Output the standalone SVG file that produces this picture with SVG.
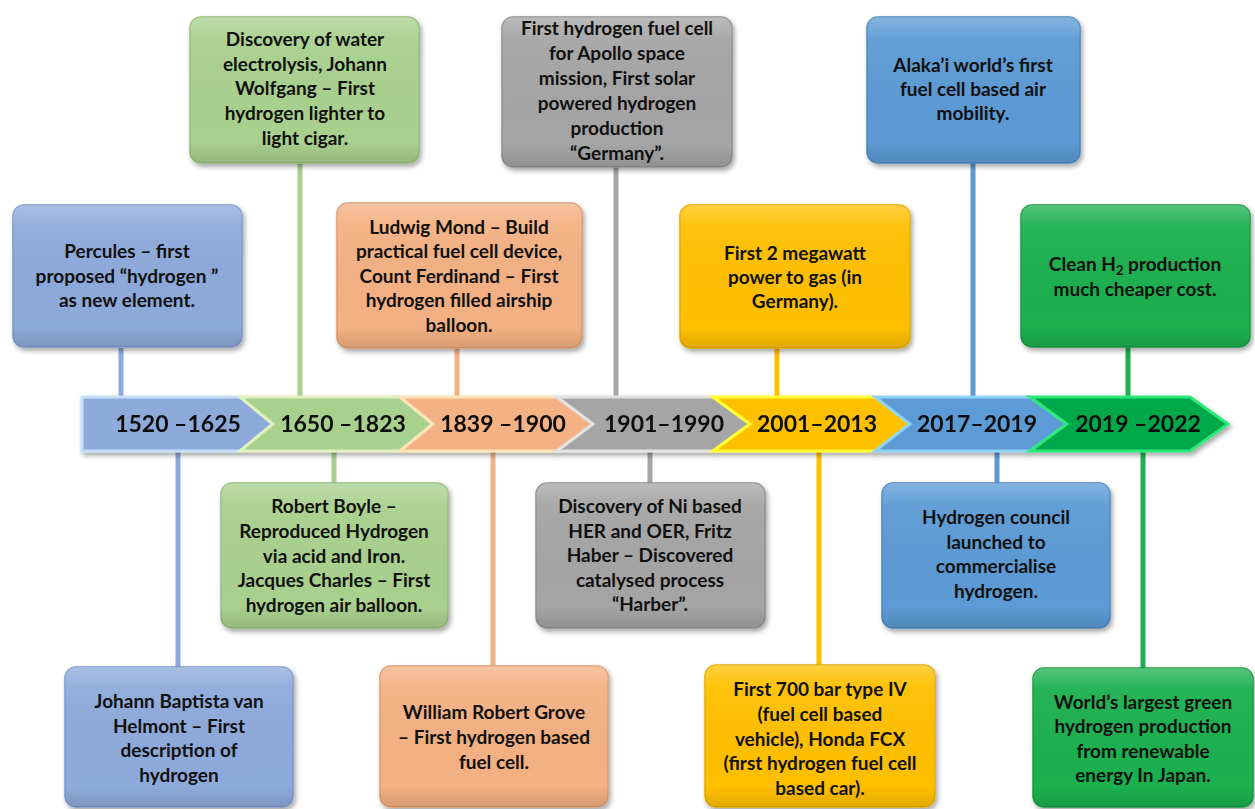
<svg xmlns="http://www.w3.org/2000/svg" width="1255" height="809" viewBox="0 0 1255 809">
<defs>
<filter id="sh" x="-10%" y="-10%" width="125%" height="130%">
<feDropShadow dx="2" dy="3" stdDeviation="2.5" flood-color="#000" flood-opacity="0.35"/>
</filter>
<linearGradient id="gl" x1="0" y1="0" x2="0" y2="1">
<stop offset="0" stop-color="#fff" stop-opacity="0.25"/>
<stop offset="0.15" stop-color="#fff" stop-opacity="0.05"/>
<stop offset="0.85" stop-color="#000" stop-opacity="0"/>
<stop offset="1" stop-color="#000" stop-opacity="0.12"/>
</linearGradient>
</defs>
<style>
.bx{filter:url(#sh);stroke-width:1.5}
.gl{fill:url(#gl);stroke:none}
.c1{fill:#8eaadb;stroke:#7d98cb}
.c2{fill:#a9d18e;stroke:#93bd77}
.c3{fill:#f4b183;stroke:#dd9a6c}
.c4{fill:#a5a5a5;stroke:#8f8f8f}
.c5{fill:#ffc000;stroke:#e5ac00}
.c6{fill:#5b9bd5;stroke:#4b88c0}
.c7{fill:#1fb04f;stroke:#189a43}
.t{font-family:Lato,"Liberation Sans",sans-serif;font-weight:bold;font-size:19px;fill:#111;text-anchor:middle}
.y{font-family:Lato,"Liberation Sans",sans-serif;font-weight:bold;font-size:23px;fill:#111;text-anchor:middle}
.ln{stroke-width:5;fill:none}
.ch{stroke-width:3;stroke-linejoin:miter}
</style>

<g id="connectors">
<line class="ln" x1="121" y1="348" x2="121" y2="396" stroke="#8eaadb"/>
<line class="ln" x1="300" y1="163" x2="300" y2="396" stroke="#a9d18e"/>
<line class="ln" x1="457" y1="348" x2="457" y2="396" stroke="#f4b183"/>
<line class="ln" x1="616" y1="167" x2="616" y2="396" stroke="#a5a5a5"/>
<line class="ln" x1="777" y1="348" x2="777" y2="396" stroke="#ffc000"/>
<line class="ln" x1="973" y1="163" x2="973" y2="396" stroke="#5b9bd5"/>
<line class="ln" x1="1128" y1="347" x2="1128" y2="396" stroke="#1fb04f"/>
<line class="ln" x1="178" y1="452" x2="178" y2="667" stroke="#8eaadb"/>
<line class="ln" x1="334" y1="452" x2="334" y2="483" stroke="#a9d18e"/>
<line class="ln" x1="493" y1="452" x2="493" y2="666" stroke="#f4b183"/>
<line class="ln" x1="650" y1="452" x2="650" y2="483" stroke="#a5a5a5"/>
<line class="ln" x1="819" y1="452" x2="819" y2="665" stroke="#ffc000"/>
<line class="ln" x1="997" y1="452" x2="997" y2="483" stroke="#5b9bd5"/>
<line class="ln" x1="1143" y1="452" x2="1143" y2="668" stroke="#1fb04f"/>
</g>

<g id="timeline" filter="url(#sh)">
<g id="p1"><polygon class="ch" points="82,397 240,397 273,424 240,451 82,451" fill="#8eaadb" stroke="#c5e0f5"/><text class="y" x="178" y="432">1520 –1625</text></g>
<g id="p2"><polygon class="ch" points="240,397 400,397 433,424 400,451 240,451 273,424" fill="#a9d18e" stroke="#e2f0c0"/><text class="y" x="343" y="432">1650 –1823</text></g>
<g id="p3"><polygon class="ch" points="400,397 557,397 593,424 557,451 400,451 433,424" fill="#f4b183" stroke="#fbe5b8"/><text class="y" x="503" y="432">1839 –1900</text></g>
<g id="p4"><polygon class="ch" points="557,397 713,397 750,424 713,451 557,451 593,424" fill="#a5a5a5" stroke="#e3e3e3"/><text class="y" x="664" y="432">1901–1990</text></g>
<g id="p5"><polygon class="ch" points="713,397 875,397 910,424 875,451 713,451 750,424" fill="#ffc000" stroke="#ffff33"/><text class="y" x="817" y="432">2001–2013</text></g>
<g id="p6"><polygon class="ch" points="875,397 1030,397 1067,424 1030,451 875,451 910,424" fill="#5b9bd5" stroke="#8fd3f5"/><text class="y" x="977" y="432">2017–2019</text></g>
<g id="p7"><polygon class="ch" points="1030,397 1190,397 1228,424 1190,451 1030,451 1067,424" fill="#00a84a" stroke="#2ee87a"/><text class="y" x="1138" y="432">2019 –2022</text></g>
</g>

<g id="nA"><rect class="bx c1" x="13" y="205" width="229" height="142" rx="11"/><rect class="gl" x="13" y="205" width="229" height="142" rx="11"/>
<text class="t"><tspan x="127" y="258">Percules – first</tspan><tspan x="127" y="283">proposed “hydrogen ”</tspan><tspan x="127" y="307">as new element.</tspan></text></g>

<g id="nB"><rect class="bx c2" x="190" y="17" width="229" height="146" rx="11"/><rect class="gl" x="190" y="17" width="229" height="146" rx="11"/>
<text class="t"><tspan x="305" y="46">Discovery of water</tspan><tspan x="305" y="71">electrolysis, Johann</tspan><tspan x="305" y="95">Wolfgang – First</tspan><tspan x="305" y="120">hydrogen lighter to</tspan><tspan x="305" y="145">light cigar.</tspan></text></g>

<g id="nC"><rect class="bx c3" x="337" y="203" width="245" height="145" rx="11"/><rect class="gl" x="337" y="203" width="245" height="145" rx="11"/>
<text class="t"><tspan x="459" y="234">Ludwig Mond – Build</tspan><tspan x="459" y="258">practical  fuel cell device,</tspan><tspan x="459" y="283">Count Ferdinand – First</tspan><tspan x="459" y="307">hydrogen filled airship</tspan><tspan x="459" y="332">balloon.</tspan></text></g>

<g id="nD"><rect class="bx c4" x="502" y="17" width="230" height="150" rx="11"/><rect class="gl" x="502" y="17" width="230" height="150" rx="11"/>
<text class="t"><tspan x="617" y="35">First hydrogen fuel cell</tspan><tspan x="617" y="60">for Apollo space</tspan><tspan x="617" y="85">mission, First solar</tspan><tspan x="617" y="110">powered hydrogen</tspan><tspan x="617" y="135">production</tspan><tspan x="617" y="160">“Germany”.</tspan></text></g>

<g id="nE"><rect class="bx c5" x="680" y="205" width="230" height="143" rx="11"/><rect class="gl" x="680" y="205" width="230" height="143" rx="11"/>
<text class="t"><tspan x="795" y="260">First 2 megawatt</tspan><tspan x="795" y="284">power to gas (in</tspan><tspan x="795" y="308">Germany).</tspan></text></g>

<g id="nF"><rect class="bx c6" x="867" y="17" width="213" height="146" rx="11"/><rect class="gl" x="867" y="17" width="213" height="146" rx="11"/>
<text class="t"><tspan x="973" y="72">Alaka’i world’s first</tspan><tspan x="973" y="96">fuel cell based air</tspan><tspan x="973" y="120">mobility.</tspan></text></g>

<g id="nG"><rect class="bx c7" x="1021" y="205" width="229" height="142" rx="11"/><rect class="gl" x="1021" y="205" width="229" height="142" rx="11"/>
<text class="t"><tspan x="1135" y="271">Clean H<tspan font-size="13" dy="4">2</tspan><tspan dy="-4"> production</tspan></tspan><tspan x="1135" y="296">much cheaper cost.</tspan></text></g>

<g id="nH"><rect class="bx c2" x="221" y="483" width="227" height="145" rx="11"/><rect class="gl" x="221" y="483" width="227" height="145" rx="11"/>
<text class="t"><tspan x="334" y="513">Robert Boyle –</tspan><tspan x="334" y="538">Reproduced Hydrogen</tspan><tspan x="334" y="563">via acid and Iron.</tspan><tspan x="334" y="587">Jacques Charles – First</tspan><tspan x="334" y="612">hydrogen air balloon.</tspan></text></g>

<g id="nI"><rect class="bx c1" x="65" y="667" width="228" height="140" rx="11"/><rect class="gl" x="65" y="667" width="228" height="140" rx="11"/>
<text class="t"><tspan x="179" y="708">Johann Baptista van</tspan><tspan x="179" y="733">Helmont – First</tspan><tspan x="179" y="757">description of</tspan><tspan x="179" y="782">hydrogen</tspan></text></g>

<g id="nJ"><rect class="bx c3" x="380" y="666" width="228" height="141" rx="11"/><rect class="gl" x="380" y="666" width="228" height="141" rx="11"/>
<text class="t"><tspan x="494" y="719">William Robert Grove</tspan><tspan x="494" y="744">– First hydrogen based</tspan><tspan x="494" y="769">fuel cell.</tspan></text></g>

<g id="nK"><rect class="bx c4" x="536" y="483" width="229" height="145" rx="11"/><rect class="gl" x="536" y="483" width="229" height="145" rx="11"/>
<text class="t"><tspan x="650" y="513">Discovery of Ni based</tspan><tspan x="650" y="538">HER and OER, Fritz</tspan><tspan x="650" y="562">Haber – Discovered</tspan><tspan x="650" y="587">catalysed process</tspan><tspan x="650" y="611">“Harber”.</tspan></text></g>

<g id="nL"><rect class="bx c5" x="705" y="665" width="230" height="142" rx="11"/><rect class="gl" x="705" y="665" width="230" height="142" rx="11"/>
<text class="t"><tspan x="820" y="696">First 700 bar type IV</tspan><tspan x="820" y="721">(fuel cell based</tspan><tspan x="820" y="746">vehicle), Honda FCX</tspan><tspan x="820" y="770">(first hydrogen fuel cell</tspan><tspan x="820" y="795">based car).</tspan></text></g>

<g id="nM"><rect class="bx c6" x="882" y="483" width="228" height="145" rx="11"/><rect class="gl" x="882" y="483" width="228" height="145" rx="11"/>
<text class="t"><tspan x="996" y="524">Hydrogen council</tspan><tspan x="996" y="549">launched to</tspan><tspan x="996" y="573">commercialise</tspan><tspan x="996" y="598">hydrogen.</tspan></text></g>

<g id="nN"><rect class="bx c7" x="1033" y="668" width="220" height="139" rx="11"/><rect class="gl" x="1033" y="668" width="220" height="139" rx="11"/>
<text class="t"><tspan x="1143" y="709">World’s largest green</tspan><tspan x="1143" y="733">hydrogen production</tspan><tspan x="1143" y="758">from renewable</tspan><tspan x="1143" y="782">energy In Japan.</tspan></text></g>
</svg>
